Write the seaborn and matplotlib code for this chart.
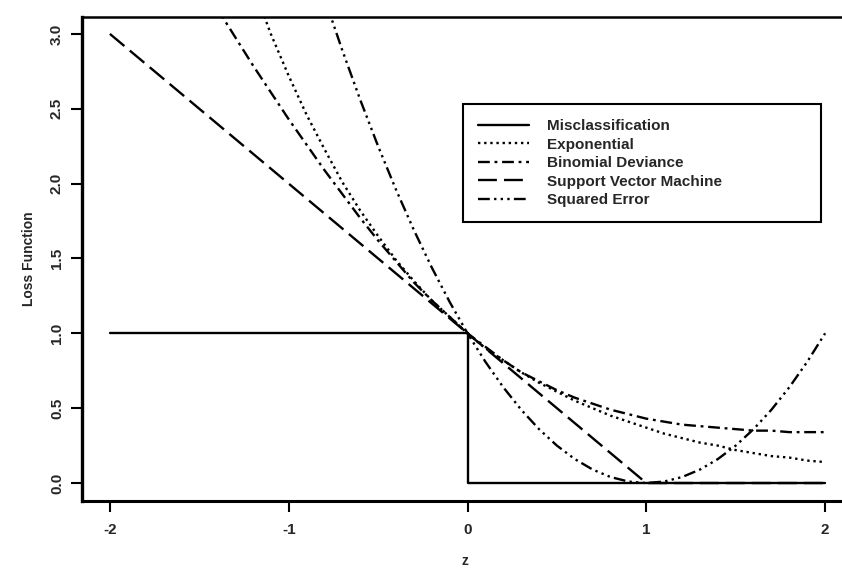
import numpy as np
import pandas as pd
import matplotlib
matplotlib.use("Agg")
import matplotlib.pyplot as plt
import seaborn as sns

# values
z_misclass = [-2.0, 0.0, 0.0, 2.0]
loss_misclass = [1.0, 1.0, 0.0, 0.0]

z_exp = [-1.2, -1.1, -1.0, -0.9, -0.8, -0.7, -0.6, -0.5, -0.4, -0.3, -0.2, -0.1,
         0.0, 0.1, 0.2, 0.3, 0.4, 0.5, 0.6, 0.7, 0.8, 0.9, 1.0, 1.1, 1.2, 1.3,
         1.4, 1.5, 1.6, 1.7, 1.8, 1.9, 2.0]
loss_exp = [3.32, 3.00, 2.72, 2.46, 2.23, 2.01, 1.82, 1.65, 1.49, 1.35, 1.22, 1.11,
            1.00, 0.90, 0.82, 0.74, 0.67, 0.61, 0.55, 0.50, 0.45, 0.41, 0.37, 0.33,
            0.30, 0.27, 0.25, 0.22, 0.20, 0.18, 0.17, 0.15, 0.14]

z_binom = [-1.4, -1.3, -1.2, -1.1, -1.0, -0.9, -0.8, -0.7, -0.6, -0.5, -0.4, -0.3,
           -0.2, -0.1, 0.0, 0.1, 0.2, 0.3, 0.4, 0.5, 0.6, 0.7, 0.8, 0.9, 1.0, 1.1,
           1.2, 1.3, 1.4, 1.5, 1.6, 1.7, 1.8, 1.9, 2.0]
loss_binom = [3.17, 2.98, 2.79, 2.61, 2.43, 2.26, 2.09, 1.93, 1.77, 1.62, 1.48, 1.34,
              1.22, 1.11, 1.00, 0.91, 0.82, 0.74, 0.68, 0.62, 0.57, 0.53, 0.49, 0.46,
              0.43, 0.41, 0.39, 0.38, 0.37, 0.36, 0.35, 0.35, 0.34, 0.34, 0.34]

z_svm = [-2.0, 1.0, 2.0]
loss_svm = [3.0, 0.0, 0.0]

z_sq = [-0.8, -0.7, -0.6, -0.5, -0.4, -0.3, -0.2, -0.1, 0.0, 0.1, 0.2, 0.3, 0.4,
        0.5, 0.6, 0.7, 0.8, 0.9, 1.0, 1.1, 1.2, 1.3, 1.4, 1.5, 1.6, 1.7, 1.8,
        1.9, 2.0]
loss_sq = [3.24, 2.89, 2.56, 2.25, 1.96, 1.69, 1.44, 1.21, 1.00, 0.81, 0.64, 0.49,
           0.36, 0.25, 0.16, 0.09, 0.04, 0.01, 0.00, 0.01, 0.04, 0.09, 0.16, 0.25,
           0.36, 0.49, 0.64, 0.81, 1.00]

x_ticks = [-2, -1, 0, 1, 2]
y_ticks = [0.0, 0.5, 1.0, 1.5, 2.0, 2.5, 3.0]

series = [
    ("Misclassification", z_misclass, loss_misclass, "-"),
    ("Exponential", z_exp, loss_exp, (0, (1.0, 1.6))),
    ("Binomial Deviance", z_binom, loss_binom, (0, (5, 2, 1.2, 2))),
    ("Support Vector Machine", z_svm, loss_svm, (0, (8, 3))),
    ("Squared Error", z_sq, loss_sq, (0, (5, 1.8, 1, 1.8, 1, 1.8, 1, 1.8))),
]

sns.set_style("ticks")
plt.rcParams["font.family"] = ["Liberation Sans", "DejaVu Sans"]
plt.rcParams["font.weight"] = "bold"

fig = plt.figure(figsize=(8.42, 5.72), dpi=100)
ax = fig.add_axes([82 / 842, 71 / 572, 766 / 842, 484 / 572])

for name, zs, ls_vals, style in series:
    df = pd.DataFrame({"z": zs, "loss": ls_vals})
    sns.lineplot(data=df, x="z", y="loss", ax=ax, sort=False, estimator=None,
                 color="black", linewidth=1.7, linestyle=style, label=name)

ax.set_xlim(-2.156, 2.128)
ax.set_ylim(-0.12, 3.113)
ax.set_xticks(x_ticks)
ax.set_xticklabels([str(t) for t in x_ticks], fontsize=11, fontweight="bold")
ax.set_yticks(y_ticks)
ax.set_yticklabels([f"{t:.1f}" for t in y_ticks], fontsize=11, fontweight="bold",
                   rotation=90, va="center")
ax.tick_params(axis="both", direction="out", length=8, width=1.5, color="black")
ax.tick_params(axis="x", pad=8)
ax.tick_params(axis="y", pad=5)
for side in ["left", "bottom", "top", "right"]:
    ax.spines[side].set_color("black")
    ax.spines[side].set_linewidth(1.8)
ax.spines["left"].set_linewidth(2.4)
ax.spines["bottom"].set_linewidth(2.2)

ax.set_xlabel("z", fontsize=10, fontweight="bold", labelpad=12)
ax.set_ylabel("Loss Function", fontsize=10, fontweight="bold", labelpad=10)

leg = ax.legend(loc="upper left", bbox_to_anchor=(463 / 842, 1 - 104 / 572, 358 / 842, 0),
                bbox_transform=fig.transFigure, mode="expand", fancybox=False,
                frameon=True, edgecolor="black", framealpha=1, fontsize=11,
                handlelength=3.3, handletextpad=1.2, labelspacing=0.29,
                borderpad=1.0, borderaxespad=0)
leg.get_frame().set_linewidth(1.5)
for t in leg.get_texts():
    t.set_fontweight("bold")

fig.savefig("out.png", dpi=100)
